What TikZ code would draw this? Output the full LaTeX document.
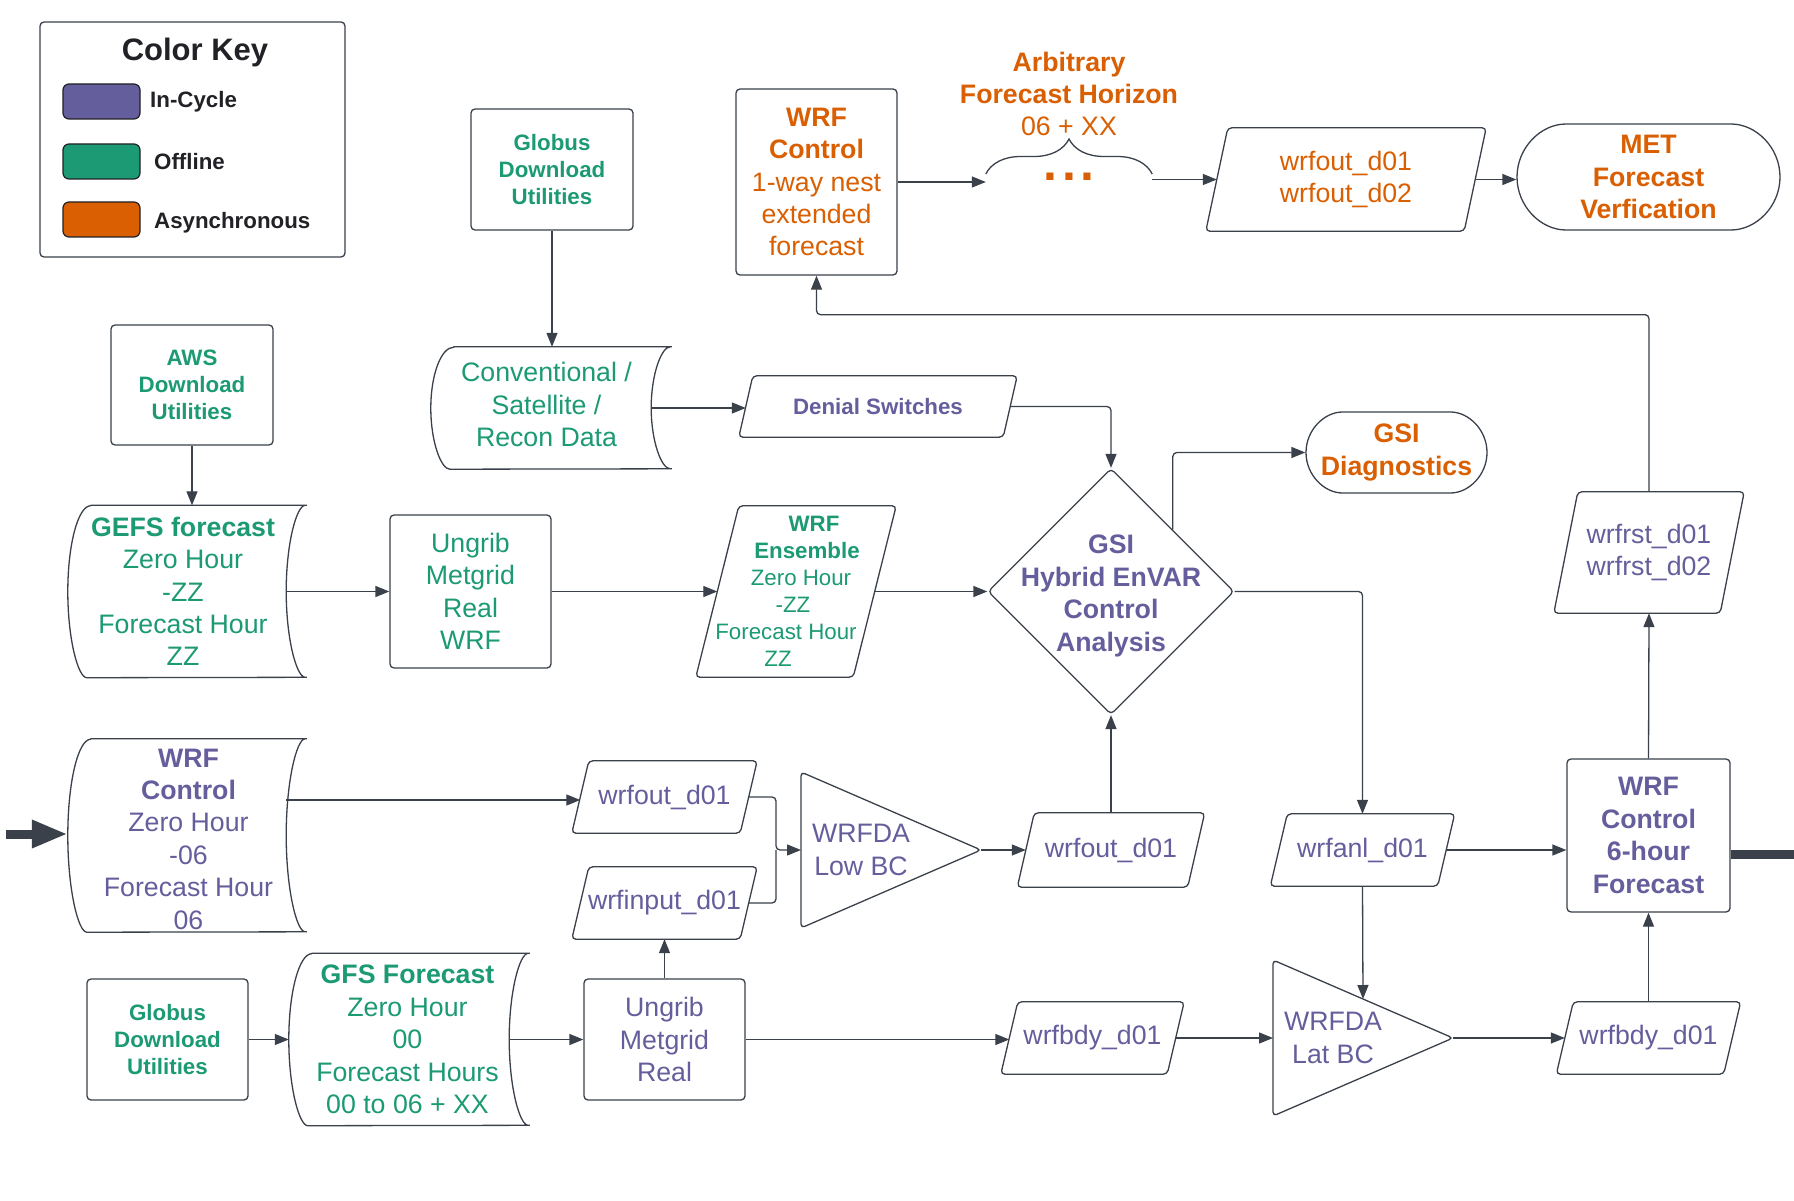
\documentclass[tikz,border=0pt]{standalone}
\usepackage{fontspec}
\setmainfont{Liberation Sans}
\usetikzlibrary{positioning,shapes.geometric,shapes.misc,arrows.meta,calc,decorations.pathreplacing}

\definecolor{purp}{RGB}{101,94,156}
\definecolor{grn}{RGB}{27,154,115}
\definecolor{orng}{RGB}{217,95,2}
\definecolor{linecol}{RGB}{58,65,74}
\definecolor{keytext}{RGB}{33,33,38}

\tikzset{
  big/.style={font=\fontsize{26.7pt}{32.4pt}\selectfont},
  bigbold/.style={font=\fontsize{26.7pt}{32.4pt}\selectfont\bfseries},
  small/.style={font=\fontsize{22.3pt}{27pt}\selectfont},
  smallbold/.style={font=\fontsize{22.3pt}{27pt}\selectfont\bfseries},
  shapeline/.style={draw=linecol, line width=1.3pt, rounded corners=4pt},
  procbox/.style={shapeline, rectangle, align=center, inner sep=0pt},
  databox/.style={rectangle, align=center, inner sep=0pt},
  swatch/.style={draw=keytext, line width=1.2pt, rounded corners=6pt, minimum width=77pt, minimum height=35pt},
  keylabel/.style={smallbold, text=keytext, anchor=west, inner sep=0pt},
  conn/.style={linecol, line width=1.3pt, rounded corners=4pt},
}

% parallelogram round a node: node, half slant
\newcommand{\slantbox}[2]{%
  \draw[shapeline] ([xshift=#2]#1.north west) -- ([xshift=#2]#1.north east)
    -- ([xshift=-#2]#1.south east) -- ([xshift=-#2]#1.south west) -- cycle;}

% stored data outline: node, half height
\newcommand{\storeshape}[2]{%
  \draw[shapeline, line cap=round] ([xshift=23pt]#1.north west) -- ([xshift=23pt]#1.north east)
    arc[start angle=90, end angle=270, x radius=23pt, y radius=#2]
    -- ([xshift=23pt]#1.south west)
    arc[start angle=270, end angle=90, x radius=23pt, y radius=#2];}

% merge triangle round a node placed at its centroid
\newcommand{\trishape}[1]{%
  \draw[shapeline] ([xshift=-60pt,yshift=78pt]#1.center) -- ([xshift=120pt]#1.center)
    -- ([xshift=-60pt,yshift=-78pt]#1.center) -- cycle;
  \coordinate (#1-in) at ([xshift=-60pt]#1.center);
  \coordinate (#1-tip) at ([xshift=120pt]#1.center);
  \coordinate (#1-top) at ([xshift=30pt,yshift=39pt]#1.center);}

\begin{document}
\begin{tikzpicture}[>={Stealth[length=14pt,width=11pt,inset=0pt]}, x=1pt, y=-1pt]
\path[use as bounding box, fill=white] (0,0) rectangle (1794,1201);

% colour key
\node (key) [procbox, minimum width=305pt, minimum height=235pt] at (192.5,139.5) {};
\node (keytitle) [font=\fontsize{31pt}{36pt}\selectfont\bfseries, text=keytext] at (195,52.5) {Color Key};
\node (swcycle) [swatch, fill=purp] at (101.5,101.5) {};
\node (swoff) [swatch, fill=grn, below of=swcycle, node distance=60pt] {};
\node (swasync) [swatch, fill=orng, below of=swoff, node distance=58pt] {};
\node (lbcycle) [keylabel] at (150,102) {In-Cycle};
\node (lboff) [keylabel] at (154,162) {Offline};
\node (lbasync) [keylabel] at (154,223) {Asynchronous};

% top row
\node (globusTop) [procbox, smallbold, text=grn, minimum width=162pt, minimum height=121pt] at (552,169.5) {Globus\\Download\\Utilities};
\node (wrfExt) [procbox, big, text=orng, minimum width=161pt, minimum height=186pt] at (816.5,182) {\textbf{WRF}\\\textbf{Control}\\1-way nest\\extended\\forecast};
\node (dots) [font=\fontsize{50pt}{50pt}\selectfont\bfseries, text=orng, minimum width=166pt, inner sep=0pt] at (1069,177) {.\kern5pt.\kern5pt.};
\node (horizon) [big, text=orng, align=center, above of=dots, node distance=83pt] {\textbf{Arbitrary}\\\textbf{Forecast Horizon}\\06 + XX};
\node (wrfoutTop) [databox, big, text=orng, minimum width=258pt, minimum height=103pt] at (1346,179.5) {wrfout\_d01\\wrfout\_d02};
\node (met) [rounded rectangle, shapeline, bigbold, text=orng, align=center, minimum width=263pt, minimum height=106pt, inner sep=0pt] at (1648.5,177) {MET\\Forecast\\Verfication};

% observations
\node (aws) [procbox, smallbold, text=grn, minimum width=162pt, minimum height=120pt] at (192,385) {AWS\\Download\\Utilities};
\node (conv) [minimum width=220pt, minimum height=122pt,
  label={[big, text=grn, align=center, xshift=5.5pt, yshift=3.5pt]center:{Conventional /\\Satellite /\\Recon Data}}] at (541,408) {};
\node (denial) [databox, smallbold, text=purp, minimum width=264pt, minimum height=61pt] at (878,406.5) {Denial Switches};
\node (gsiDiag) [rounded rectangle, shapeline, bigbold, text=orng, align=center, minimum width=181pt, minimum height=81pt, inner sep=0pt] at (1396.5,452.5) {GSI\\Diagnostics};

% ensemble row
\node (gefs) [minimum width=218pt, minimum height=172pt,
  label={[big, text=grn, align=center, xshift=6pt]center:{\textbf{GEFS forecast}\\Zero Hour\\-ZZ\\Forecast Hour\\ZZ}}] at (177,591.5) {};
\node (ungribA) [procbox, big, text=grn, minimum width=161pt, minimum height=153pt, right of=gefs, node distance=293.5pt] {Ungrib\\Metgrid\\Real\\WRF};
\node (ens) [databox, small, text=grn, minimum width=157pt, minimum height=171pt, right of=ungribA, node distance=325.5pt] {\hspace*{36pt}\textbf{WRF}\\\hspace*{22pt}\textbf{Ensemble}\\\hspace*{10pt}Zero Hour\\\hspace*{-6pt}-ZZ\\\hspace*{-20pt}Forecast Hour\\\hspace*{-36pt}ZZ};
\node (gsi) [diamond, shapeline, minimum width=246pt, minimum height=246pt, inner sep=0pt, right of=ens, node distance=315pt,
  label={[bigbold, text=purp, align=center, yshift=-4.5pt]center:{GSI\\Hybrid EnVAR\\Control\\Analysis}}] {};
\node (wrfrst) [databox, big, text=purp, minimum width=166pt, minimum height=121pt] at (1649,552.5) {wrfrst\_d01\\wrfrst\_d02};

% control row
\node (wrfCtl) [minimum width=218pt, minimum height=193pt, below of=gefs, node distance=244pt,
  label={[big, text=purp, align=center, xshift=11.5pt, yshift=-3.5pt]center:{\textbf{WRF}\\\textbf{Control}\\Zero Hour\\-06\\Forecast Hour\\06}}] {};
\node (wrfoutL) [databox, big, text=purp, minimum width=168pt, minimum height=72pt] at (664.5,797) {wrfout\_d01};
\node (wrfinput) [databox, big, text=purp, minimum width=168pt, minimum height=72pt, below of=wrfoutL, node distance=106pt] {wrfinput\_d01};
\node (wrfoutM) [databox, big, text=purp, minimum width=170pt, minimum height=74pt, below of=gsi, node distance=258.5pt] {wrfout\_d01};
\node (lowbc) [big, text=purp, align=center, inner sep=0pt, left of=wrfoutM, node distance=250pt] {WRFDA\\Low BC};
\node (wrfanl) [databox, big, text=purp, minimum width=167pt, minimum height=72pt, right of=wrfoutM, node distance=251.5pt] {wrfanl\_d01};
\node (wrf6h) [procbox, bigbold, text=purp, minimum width=163pt, minimum height=153pt] at (1648.5,835.5) {WRF\\Control\\6-hour\\Forecast};

% boundary row
\node (globusBot) [procbox, smallbold, text=grn, minimum width=161pt, minimum height=121pt] at (167.5,1039.5) {Globus\\Download\\Utilities};
\node (gfs) [minimum width=220pt, minimum height=172pt,
  label={[big, text=grn, align=center, xshift=8.5pt]center:{\textbf{GFS Forecast}\\Zero Hour\\00\\Forecast Hours\\00 to 06 + XX}}] at (399,1039.5) {};
\node (ungribB) [procbox, big, text=purp, minimum width=161pt, minimum height=121pt, below of=wrfinput, node distance=136.5pt] {Ungrib\\Metgrid\\Real};
\node (wrfbdyM) [databox, big, text=purp, minimum width=166pt, minimum height=72pt] at (1092.5,1038) {wrfbdy\_d01};
\node (latbc) [big, text=purp, align=center, inner sep=0pt, right of=wrfbdyM, node distance=240.5pt] {WRFDA\\Lat BC};
\node (wrfbdyR) [databox, big, text=purp, minimum width=167pt, minimum height=72pt, below of=wrf6h, node distance=202.5pt] {wrfbdy\_d01};

% outlines
\slantbox{denial}{7pt}
\slantbox{wrfoutTop}{11pt}
\slantbox{ens}{21.5pt}
\slantbox{wrfrst}{12pt}
\slantbox{wrfoutL}{8.5pt}
\slantbox{wrfinput}{8.5pt}
\slantbox{wrfoutM}{8.5pt}
\slantbox{wrfanl}{8.5pt}
\slantbox{wrfbdyM}{8.5pt}
\slantbox{wrfbdyR}{8.5pt}
\storeshape{conv}{61pt}
\storeshape{gefs}{86pt}
\storeshape{wrfCtl}{96.5pt}
\storeshape{gfs}{86pt}
\trishape{lowbc}
\trishape{latbc}
\draw[linecol, line width=1.3pt, decorate, decoration={brace, amplitude=35pt}] ([yshift=3pt]dots.west) -- ([yshift=3pt]dots.east);

\coordinate (feed) at (6,834);
\coordinate (merge) at (776,850);
\coordinate (exit) at (1794,854);

% connectors
\draw[->, conn] (globusTop.south) -- (globusTop.south |- conv.north);
\draw[->, conn] (conv.east) -- (conv.east -| denial.west);
\draw[->, conn] (denial.east) -| (gsi.north);
\draw[->, conn] ($(gsi.north)!0.5!(gsi.east)$) |- (gsiDiag.west);
\draw[->, conn] (aws.south) -- (aws.south |- gefs.north);
\draw[->, conn] (gefs.east) -- (ungribA.west);
\draw[->, conn] (ungribA.east) -- (ens.west);
\draw[->, conn] (ens.east) -- (gsi.west);
\draw[->, conn] (wrfExt.east) -- (wrfExt.east -| dots.west);
\draw[->, conn] (dots.east |- wrfoutTop.west) -- (wrfoutTop.west);
\draw[->, conn] (wrfoutTop.east) -- (wrfoutTop.east -| met.west);
\draw[->, conn] (wrf6h.north) -- (wrfrst.south);
\draw[->, conn] (wrfrst.north) |- ([yshift=-39pt]wrfExt.south) -- (wrfExt.south);
\draw[-{Stealth[length=36pt,width=26pt,inset=0pt]}, linecol, line width=9pt] (feed) -- (feed -| wrfCtl.west);
\draw[->, conn] ([yshift=-3pt]wrfCtl.east |- wrfoutL.west) -- ([yshift=-3pt]wrfoutL.west);
\draw[->, conn] (wrfoutL.east) -| (merge) -- (lowbc-in);
\draw[conn] (wrfinput.east) -| (merge);
\draw[->, conn] (lowbc-tip) -- (wrfoutM.west);
\draw[->, conn] (wrfoutM.north) -- (gsi.south);
\draw[->, conn] (gsi.east) -| (wrfanl.north);
\draw[->, conn] (wrfanl.east) -- (wrfanl.east -| wrf6h.west);
\draw[->, conn] (wrfanl.south) -- (latbc-top);
\draw[->, conn] (globusBot.east) -- (gfs.west);
\draw[->, conn] (gfs.east) -- (ungribB.west);
\draw[->, conn] (ungribB.north) -- (wrfinput.south);
\draw[->, conn] (ungribB.east) -- (ungribB.east -| wrfbdyM.west);
\draw[->, conn] (wrfbdyM.east) -- (latbc-in);
\draw[->, conn] (latbc-tip) -- (wrfbdyR.west);
\draw[->, conn] (wrfbdyR.north) -- (wrf6h.south);
\draw[conn, line width=9pt] (wrf6h.east |- exit) -- (exit);
\end{tikzpicture}
\end{document}
